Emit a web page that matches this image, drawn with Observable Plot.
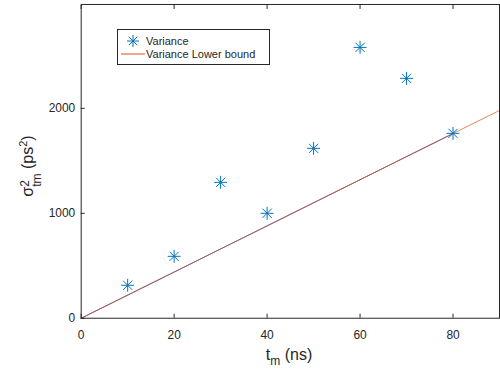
<!DOCTYPE html>
<html><head><meta charset="utf-8">
<script src="https://cdn.jsdelivr.net/npm/d3@7"></script>
<script src="https://cdn.jsdelivr.net/npm/@observablehq/plot@0.6"></script>
<style>
html,body{margin:0;padding:0;background:#fff;overflow:hidden;width:500px;height:376px;}
#wrap{position:relative;width:500px;height:376px;font-family:"Liberation Sans",Arial,sans-serif;color:#262626;}
#legend{position:absolute;left:117px;top:29px;width:153px;height:36px;border:1px solid #262626;background:#fff;font-size:11px;box-sizing:border-box;}
.lrow{position:absolute;left:0;height:14px;line-height:14px;white-space:nowrap;}
.lrow svg{position:absolute;left:3px;top:0;}
.lrow span{position:absolute;left:28px;top:0;}
#ylab{position:absolute;left:29px;top:166px;transform:translate(-50%,-50%) rotate(-90deg);font-size:16px;white-space:nowrap;}
#xlab{position:absolute;left:289px;top:357px;transform:translate(-50%,-50%);font-size:16px;white-space:nowrap;}
.ss{display:inline-block;vertical-align:middle;line-height:1;font-size:12px;text-align:left;position:relative;top:2px;}
</style></head>
<body><div id="wrap"></div>
<script>
const tm = [10, 20, 30, 40, 50, 60, 70, 80];
const variance = [314, 590, 1295, 1000, 1619, 2581, 2286, 1762];
const boundT = [0, 80];
const boundFullT = [0, 90];
const boundSlope = 22; // ps^2 per ns
const xTicks = [0, 20, 40, 60, 80];
const yTicks = [0, 1000, 2000];

const blue = "#0072BD", orange = "#D95319", axisCol = "#262626";
const star = {draw(ctx, size){const r = Math.sqrt(size/Math.PI); const d = r*0.7071;
  ctx.moveTo(-r,0);ctx.lineTo(r,0);ctx.moveTo(0,-r);ctx.lineTo(0,r);
  ctx.moveTo(-d,-d);ctx.lineTo(d,d);ctx.moveTo(-d,d);ctx.lineTo(d,-d);}};

const pts = tm.map((t,i)=>({t, v: variance[i]}));
const bound1 = boundT.map(t=>({t, v: boundSlope*t}));
const bound2 = boundFullT.map(t=>({t, v: boundSlope*t}));

const chart = Plot.plot({
  width: 502, height: 376,
  marginLeft: 81, marginTop: 4, marginBottom: 57, marginRight: 1,
  style: {fontFamily: '"Liberation Sans", Arial, sans-serif', fontSize: "12px", color: axisCol, background: "#fff"},
  x: {domain: [0, 90]},
  y: {domain: [0, 2990]},
  marks: [
    Plot.line(bound1, {x: "t", y: "v", stroke: "#3a63c8", strokeWidth: 1}),
    Plot.line(bound2, {x: "t", y: "v", stroke: orange, strokeWidth: 1, strokeOpacity: 0.7}),
    Plot.dot(pts, {x: "t", y: "v", symbol: star, r: 6.5, stroke: blue, fill: "none", strokeWidth: 1}),
    Plot.frame({stroke: axisCol, strokeWidth: 1}),
    Plot.axisX(xTicks, {anchor: "bottom", tickSize: 0, tickPadding: 12, tickFormat: d3.format("d"), label: null, fontSize: 12, fill: axisCol}),
    Plot.axisX(xTicks, {anchor: "bottom", tickSize: -4, tickFormat: () => "", label: null, stroke: axisCol}),
    Plot.axisX(xTicks, {anchor: "top", tickSize: -4, tickFormat: () => "", label: null, stroke: axisCol}),
    Plot.axisY(yTicks, {anchor: "left", tickSize: 0, tickPadding: 6, tickFormat: d3.format("d"), label: null, fontSize: 12, fill: axisCol}),
    Plot.axisY(yTicks, {anchor: "left", tickSize: -4, tickFormat: () => "", label: null, stroke: axisCol})
  ]
});
const wrap = document.getElementById("wrap");
chart.style.position = "absolute"; chart.style.left = "0"; chart.style.top = "0";
wrap.appendChild(chart);

const legend = document.createElement("div");
legend.id = "legend";
legend.innerHTML = `
<div class="lrow" style="top:4px"><svg width="24" height="14"><g stroke="${blue}" stroke-width="1"><line x1="6" y1="7" x2="18" y2="7"/><line x1="12" y1="1" x2="12" y2="13"/><line x1="7.8" y1="2.8" x2="16.2" y2="11.2"/><line x1="7.8" y1="11.2" x2="16.2" y2="2.8"/></g></svg><span>Variance</span></div>
<div class="lrow" style="top:17px"><svg width="24" height="14"><line x1="0" y1="7" x2="24" y2="7" stroke="${orange}" stroke-width="1"/></svg><span>Variance Lower bound</span></div>`;
wrap.appendChild(legend);

const ylab = document.createElement("div");
ylab.id = "ylab";
ylab.innerHTML = `σ<span class="ss"><span style="display:block">2</span><span style="display:block">tm</span></span> (ps<sup style="font-size:11px">2</sup>)`;
wrap.appendChild(ylab);

const xlab = document.createElement("div");
xlab.id = "xlab";
xlab.innerHTML = `t<sub style="font-size:12px">m</sub> (ns)`;
wrap.appendChild(xlab);
</script>
</body></html>
